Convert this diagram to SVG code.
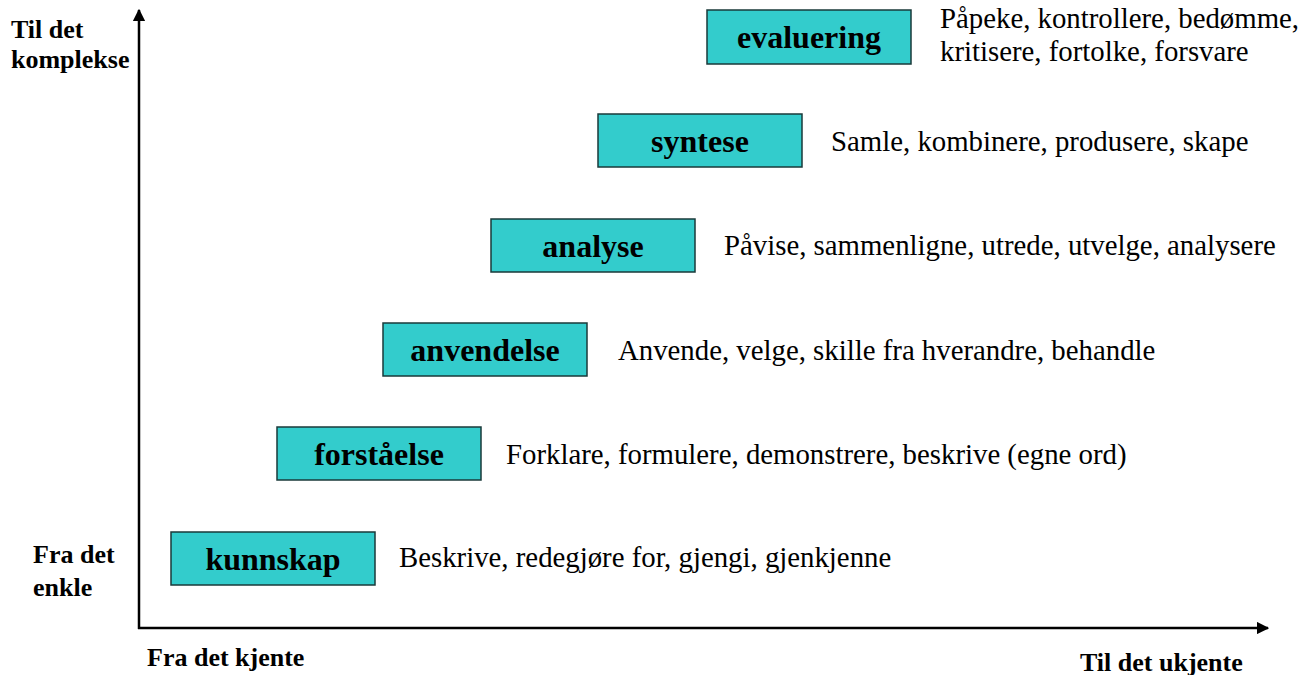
<svg xmlns="http://www.w3.org/2000/svg" width="1312" height="675" viewBox="0 0 1312 675">
<style>
.box{fill:#33CCCC;stroke:#1a3a3a;stroke-width:1.5}
.lbl{font-family:"Liberation Serif",serif;font-weight:bold;font-size:32px;text-anchor:middle;fill:#000}
.desc{font-family:"Liberation Serif",serif;font-size:28.8px;fill:#000}
.ax{font-family:"Liberation Serif",serif;font-weight:bold;font-size:26px;fill:#000}
.axis{stroke:#000;stroke-width:2.5;fill:none}
</style>
<defs>
<marker id="ah" viewBox="0 0 10 10" refX="9" refY="5" markerWidth="5" markerHeight="5" markerUnits="strokeWidth" orient="auto">
<path d="M0,0 L10,5 L0,10 z" fill="#000"/>
</marker>
</defs>
<rect width="1312" height="675" fill="#fff"/>
<g id="connectors">
<line class="axis" x1="139" y1="629" x2="139" y2="10" marker-end="url(#ah)"/>
<line class="axis" x1="138" y1="628" x2="1268" y2="628" marker-end="url(#ah)"/>
</g>
<g id="evaluering"><rect class="box" x="707" y="10" width="204" height="54"/><text class="lbl" x="809" y="48">evaluering</text></g>
<g id="syntese"><rect class="box" x="598" y="114" width="204" height="53"/><text class="lbl" x="700" y="152">syntese</text></g>
<g id="analyse"><rect class="box" x="491" y="219" width="204" height="53"/><text class="lbl" x="593" y="257">analyse</text></g>
<g id="anvendelse"><rect class="box" x="383" y="323" width="204" height="53"/><text class="lbl" x="485" y="361">anvendelse</text></g>
<g id="forstaelse"><rect class="box" x="277" y="427" width="204" height="53"/><text class="lbl" x="379" y="465">forståelse</text></g>
<g id="kunnskap"><rect class="box" x="171" y="532" width="204" height="53"/><text class="lbl" x="273" y="570">kunnskap</text></g>
<g id="descriptions">
<text class="desc" x="940" y="28">Påpeke, kontrollere, bedømme,</text>
<text class="desc" x="940" y="61">kritisere, fortolke, forsvare</text>
<text class="desc" x="831" y="151">Samle, kombinere, produsere, skape</text>
<text class="desc" x="724" y="255">Påvise, sammenligne, utrede, utvelge, analysere</text>
<text class="desc" x="618" y="360">Anvende, velge, skille fra hverandre, behandle</text>
<text class="desc" x="506" y="464">Forklare, formulere, demonstrere, beskrive (egne ord)</text>
<text class="desc" x="399" y="567">Beskrive, redegjøre for, gjengi, gjenkjenne</text>
</g>
<g id="axis-labels">
<text class="ax" x="11" y="38">Til det</text>
<text class="ax" x="11" y="68">komplekse</text>
<text class="ax" x="33" y="563">Fra det</text>
<text class="ax" x="33" y="596">enkle</text>
<text class="ax" x="147" y="666">Fra det kjente</text>
<text class="ax" x="1080" y="671">Til det ukjente</text>
</g>
</svg>
